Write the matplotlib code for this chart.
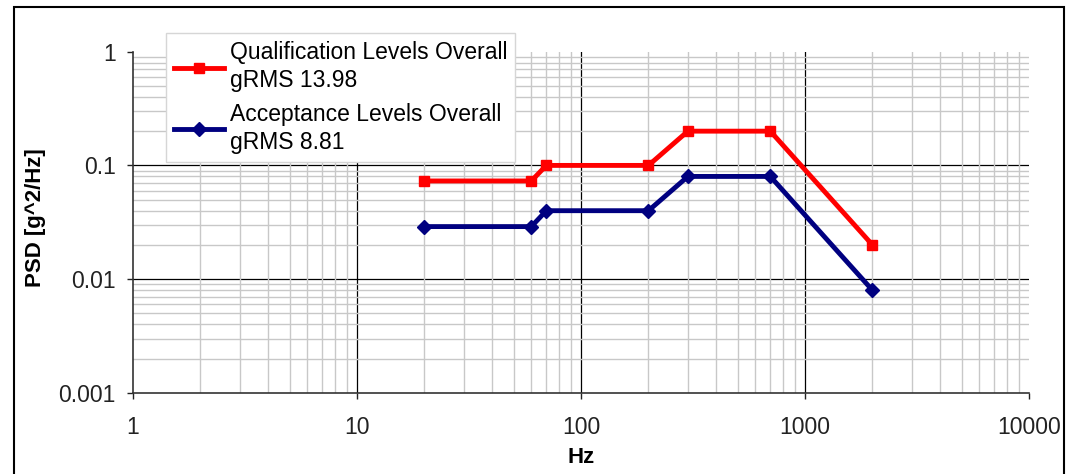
import matplotlib
matplotlib.use('Agg')
import matplotlib.pyplot as plt
import matplotlib.ticker as tkr
from matplotlib.patches import Rectangle

plt.rcParams['font.family'] = ['Liberation Sans', 'DejaVu Sans']

# frequency breakpoints (Hz) and PSD levels (g^2/Hz)
freq = [20, 60, 70, 200, 300, 700, 2000]
qual_psd = [0.073, 0.073, 0.1, 0.1, 0.2, 0.2, 0.02]
acc_psd = [0.029, 0.029, 0.04, 0.04, 0.08, 0.08, 0.008]

qual_label = 'Qualification Levels Overall\ngRMS 13.98'
acc_label = 'Acceptance Levels Overall\ngRMS 8.81'

x_major = [1, 10, 100, 1000, 10000]
y_major = [0.001, 0.01, 0.1, 1]

fig = plt.figure(figsize=(10.71, 4.74), dpi=100)
ax = fig.add_axes([0.1242, 0.1709, 0.8366, 0.7202])

ax.set_xscale('log')
ax.set_yscale('log')
ax.set_xlim(1, 10000)
ax.set_ylim(0.001, 1)

# minor grid light gray, major grid black (inner lines only)
ax.xaxis.set_minor_locator(tkr.LogLocator(base=10, subs=range(2, 10), numticks=20))
ax.yaxis.set_minor_locator(tkr.LogLocator(base=10, subs=range(2, 10), numticks=20))
ax.grid(which='minor', color='#c8c8c8', lw=1.0)
for v in x_major[1:-1]:
    ax.axvline(v, color='black', lw=0.9, zorder=1)
for v in y_major[1:-1]:
    ax.axhline(v, color='black', lw=0.9, zorder=1)

ax.plot(freq, qual_psd, color='#ff0000', lw=3.5, marker='s', ms=7, label=qual_label, zorder=3)
ax.plot(freq, acc_psd, color='#000080', lw=3.5, marker='D', ms=7.5, label=acc_label, zorder=3)

ax.set_xticks(x_major)
ax.set_xticklabels(['1', '10', '100', '1000', '10000'])
ax.set_yticks(y_major)
ax.set_yticklabels(['0.001', '0.01', '0.1', '1'])
ax.tick_params(which='minor', length=0)
ax.tick_params(axis='x', which='major', direction='out', length=4.5, width=1, pad=12, labelsize=16.5, colors='#222222')
ax.tick_params(axis='y', which='major', direction='out', length=4.5, width=1, pad=8, labelsize=16.5, colors='#222222')

for s in ['top', 'right']:
    ax.spines[s].set_visible(False)
for s in ['left', 'bottom']:
    ax.spines[s].set_color('#333333')
    ax.spines[s].set_linewidth(1.2)

ax.set_xlabel('Hz', fontsize=16, fontweight='bold', labelpad=6)
ax.set_ylabel('PSD [g^2/Hz]', fontsize=16, fontweight='bold')
ax.yaxis.set_label_coords(-0.097, 0.513)

leg = ax.legend(loc='upper left', bbox_to_anchor=(0.1547, 0.9304), bbox_transform=fig.transFigure,
                borderaxespad=0, fontsize=16.5, fancybox=False, framealpha=1, edgecolor='#d6d6d6',
                handlelength=2.2, handletextpad=0.25, borderpad=0.35, labelspacing=0.45)
leg.get_frame().set_linewidth(1.0)
for t in leg.get_texts():
    t.set_linespacing(1.3)
leg.set_zorder(5)

# outer chart border
fig.patches.append(Rectangle((0.0131, -0.05), 0.9804, 0.985 + 0.05, transform=fig.transFigure,
                             fill=False, edgecolor='black', lw=1.5))

plt.savefig('out.png', dpi=100)
